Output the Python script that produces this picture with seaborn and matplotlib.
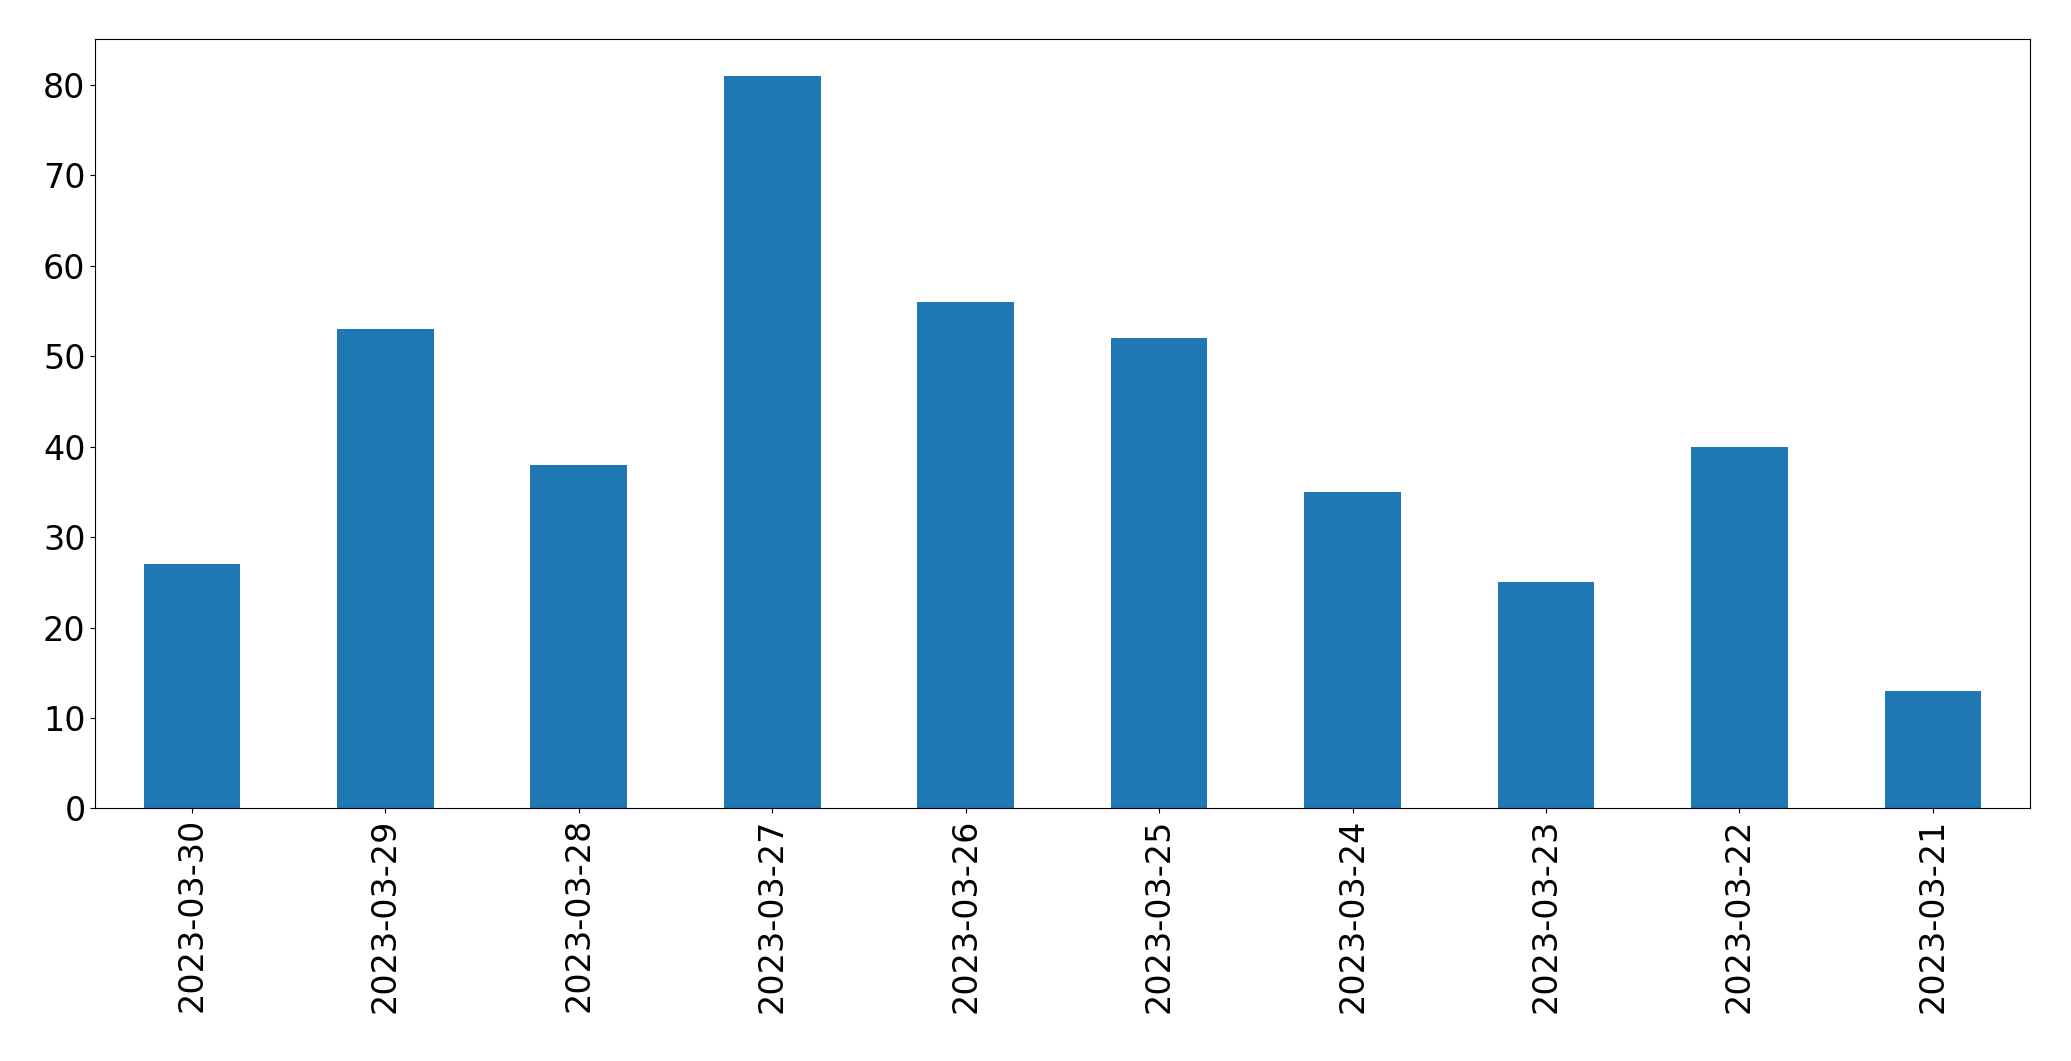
import matplotlib
matplotlib.use('Agg')
import matplotlib.pyplot as plt
import seaborn as sns
import pandas as pd

dates = ['2023-03-30', '2023-03-29', '2023-03-28', '2023-03-27', '2023-03-26',
         '2023-03-25', '2023-03-24', '2023-03-23', '2023-03-22', '2023-03-21']
counts = [27, 53, 38, 81, 56, 52, 35, 25, 40, 13]

df = pd.DataFrame({'date': dates, 'count': counts})

fig = plt.figure(figsize=(20.71, 10.61), dpi=100)
ax = fig.add_axes([0.046, 0.238, 0.934, 0.725])
sns.barplot(data=df, x='date', y='count', color='#1f77b4', saturation=1, width=0.5, ax=ax)
ax.set_xlim(-0.5, len(dates) - 0.5)
ax.set_ylim(0, max(counts) * 1.05)
ax.set_xlabel('')
ax.set_ylabel('')
ax.tick_params(axis='both', labelsize=24)
ax.tick_params(axis='x', rotation=90)
fig.savefig('out.png', dpi=100)
plt.close()
